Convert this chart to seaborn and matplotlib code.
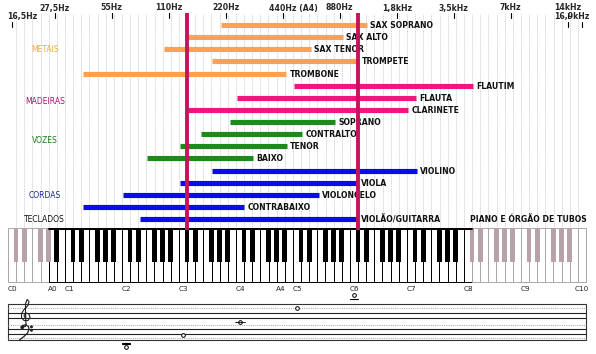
import matplotlib
matplotlib.use("Agg")
import matplotlib.pyplot as plt
import seaborn as sns
import numpy as np
import pandas as pd
from matplotlib.patches import Rectangle

# ranges in semitones above C0 (C0 = 0, A4 = 57)
instruments = ["SAX SOPRANO", "SAX ALTO", "SAX TENOR", "TROMPETE", "TROMBONE",
               "FLAUTIM", "FLAUTA", "CLARINETE",
               "SOPRANO", "CONTRALTO", "TENOR", "BAIXO",
               "VIOLINO", "VIOLA", "VIOLONCELO", "CONTRABAIXO", "VIOLÃO/GUITARRA"]
low = [44.0, 37.1, 31.9, 42.0, 14.9, 59.4, 47.4, 37.1, 45.9, 39.8, 35.4, 28.5,
       42.0, 35.4, 23.4, 14.9, 26.9]
high = [74.7, 69.7, 62.9, 72.9, 57.7, 97.1, 85.1, 83.4, 68.0, 61.1, 57.8, 50.8,
        85.2, 72.8, 64.6, 48.9, 72.8]
family = ["METAIS"] * 5 + ["MADEIRAS"] * 3 + ["VOZES"] * 4 + ["CORDAS"] * 5

groups = ["METAIS", "MADEIRAS", "VOZES", "CORDAS", "TECLADOS"]
group_rows = [2, 6.3, 9.5, 14, 16]
bar_colors = {"METAIS": "#ffa052", "MADEIRAS": "#f0157f", "VOZES": "#1e8a1e",
              "CORDAS": "#0c0ce6"}
group_text_colors = ["#f0a548", "#a8156c", "#1e7a1e", "#1a2a8a", "#111111"]

freq_labels = ["16,5Hz", "27,5Hz", "55Hz", "110Hz", "220Hz", "440Hz (A4)", "880Hz",
               "1,8kHz", "3,5kHz", "7kHz", "14kHz", "16,9kHz"]
freq_semitones = [0, 9, 21, 33, 45, 57, 69, 81, 93, 105, 117, 120]

key_labels = ["C0", "A0", "C1", "C2", "C3", "C4", "A4", "C5", "C6", "C7", "C8", "C9", "C10"]
red_lines = [36.9, 72.8]

staff_notes = [24, 36, 48, 60, 72]          # C2 .. C6
staff_note_y = [346.5, 334.5, 321.5, 308.3, 294.5]

# ---- figure: x = semitones, y = pixel rows (top = 0)
sns.set_theme(style="white")
plt.rcParams['font.family'] = ['DejaVu Sans']
fig = plt.figure(figsize=(5.96, 3.54), dpi=100)
ax = fig.add_axes([0, 0, 1, 1])
px = 4.75  # pixels per semitone
to_x = lambda p: (np.asarray(p, dtype=float) - 12) / px

row_y = lambda i: 25 + 12.13 * i
w = 12 / 7  # white key width in semitones

# grid at white key boundaries
for k in range(70):
    b = k * w + w / 2
    ax.plot([b, b], [14, 228], color="#c4c4c4", lw=0.6, ls=(0, (1, 1)), zorder=1)

# instrument bars
df = pd.DataFrame({"instrument": instruments, "low": low, "high": high, "family": family})
df["row"] = [row_y(i) for i in range(len(df))]
long = df.melt(id_vars=["instrument", "family", "row"], value_vars=["low", "high"],
               value_name="semitone")
pal = {r.instrument: bar_colors[r.family] for r in df.itertuples()}
sns.lineplot(data=long, x="semitone", y="row", hue="instrument", units="instrument",
             estimator=None, palette=pal, lw=3.7, legend=False, sort=False,
             solid_capstyle="butt", ax=ax, zorder=2)
ax.set_xlim(to_x(0), to_x(596))
ax.set_ylim(354, 0)
ax.axis("off")

for r in df.itertuples():
    ax.text(r.high + 0.7, r.row + 0.5, r.instrument, fontsize=5.6, fontweight="bold",
            color="#111111", ha="left", va="center", zorder=3)
ax.text(to_x(470), row_y(16) + 0.5, "PIANO E ÓRGÃO DE TUBOS", fontsize=5.6,
        fontweight="bold", color="#111111", ha="left", va="center", zorder=3)

for g, gr, gc in zip(groups, group_rows, group_text_colors):
    ax.text(6.9, row_y(gr) + 0.5, g, fontsize=5.5, color=gc, ha="center", va="center")

# frequency scale on top
for lab, n in zip(freq_labels, freq_semitones):
    if lab == "16,5Hz":
        ax.text(n - 1.1, 16, lab, fontsize=5.6, fontweight="bold", ha="left", va="center")
        ax.plot([n, n], [22, 27], color="black", lw=0.8)
    elif lab == "16,9kHz":
        ax.text(121.5, 16, lab, fontsize=5.6, fontweight="bold", ha="right", va="center")
        ax.plot([n, n], [22, 27], color="black", lw=0.8)
        ax.plot([117, 117], [22, 27], color="black", lw=0.8)
    elif lab.startswith("440"):
        ax.text(n - 2.8, 8, lab, fontsize=5.6, fontweight="bold", ha="left", va="center")
        ax.plot([n, n], [13, 18], color="black", lw=0.8)
    else:
        ax.text(n, 8, lab, fontsize=5.6, fontweight="bold", ha="center", va="center")
        ax.plot([n, n], [13, 18], color="black", lw=0.8)

# keyboard
kb_top, kb_bot, black_bot = 228, 282, 262
for k in range(71):
    c = k * w
    ec = "black" if 5 <= k <= 56 else "#a8a8a8"
    ax.add_patch(Rectangle((c - w / 2, kb_top), w, kb_bot - kb_top, facecolor="white",
                           edgecolor=ec, lw=0.7, zorder=5))
for o in range(10):
    for j in [0, 1, 3, 4, 5]:
        k = 7 * o + j
        bx = k * w + w / 2
        fc = "black" if 5 <= k < 56 else "#b8a2aa"
        ax.add_patch(Rectangle((bx - 0.5, kb_top), 1.0, black_bot - kb_top, facecolor=fc,
                               edgecolor="none", zorder=6))
ax.plot([5 * w - w / 2, 56 * w + w / 2], [kb_top + 0.5, kb_top + 0.5], color="black",
        lw=1.4, zorder=7)

names = "CDEFGAB"
for lab in key_labels:
    k = int(lab[1:]) * 7 + names.index(lab[0])
    ax.text(k * w, 289, lab, fontsize=5.2, color="#222222", ha="center", va="center")

# red markers
for n in red_lines:
    ax.plot([n, n], [13, 230], color="#c3145e", lw=2.8, zorder=8, solid_capstyle="butt")

# staff
x0, x1 = -6 / 7, 120 + 6 / 7
ax.add_patch(Rectangle((x0, 303.5), x1 - x0, 36.8, facecolor="none",
                       edgecolor="#333333", lw=0.8, zorder=5))
for yy in [313, 317.5, 329.3, 333.7]:
    ax.plot([x0, x1], [yy, yy], color="#222222", lw=0.8, zorder=5)
for yy in [308, 324.5, 337.7]:
    ax.plot([x0, x1], [yy, yy], color="#b0b0b0", lw=0.8, ls=(0, (1, 1)), zorder=5)

# clefs (no installed font has the music glyphs, so they are drawn as strokes)
treble = np.array([(26, 324), (25.5, 312), (25.5, 304), (27, 299.5), (29, 301.5),
                   (28, 305.5), (24, 309.5), (21.5, 313.5), (21.5, 317.5), (24, 320.5),
                   (28, 320.5), (30, 317.5), (29, 314), (26, 313), (24, 315.5),
                   (25, 317.5)])
ax.plot(to_x(treble[:, 0]), treble[:, 1], color="#222222", lw=0.8, zorder=7)
ax.plot(to_x([26, 25.5, 23.5, 22.5]), [324, 326.5, 326.8, 325.5], color="#222222",
        lw=0.8, zorder=7)
bass = np.array([(22, 327.5), (22.5, 325.5), (25.5, 324.8), (28.5, 326.5), (29, 329.5),
                 (27.5, 333), (24, 336.5), (19.5, 340)])
ax.plot(to_x(bass[:, 0]), bass[:, 1], color="#222222", lw=0.9, zorder=7)
ax.scatter(to_x([22.2, 31.5, 31.5]), [327.3, 326.8, 330.3], s=[3, 1.2, 1.2],
           color="#222222", zorder=7)

ax.scatter(staff_notes, staff_note_y, s=7, marker="o", facecolor="white",
           edgecolor="black", lw=0.7, zorder=7)
ax.plot([47, 49], [321.5, 321.5], color="black", lw=0.6, zorder=7)
ax.plot([71.2, 72.8], [298.5, 298.5], color="black", lw=0.8, zorder=7)
ax.plot([23.2, 24.8], [342.5, 342.5], color="black", lw=0.8, zorder=7)
ax.plot([23.2, 24.8], [344.3, 344.3], color="black", lw=0.8, zorder=7)

fig.savefig("out.png", dpi=100)
